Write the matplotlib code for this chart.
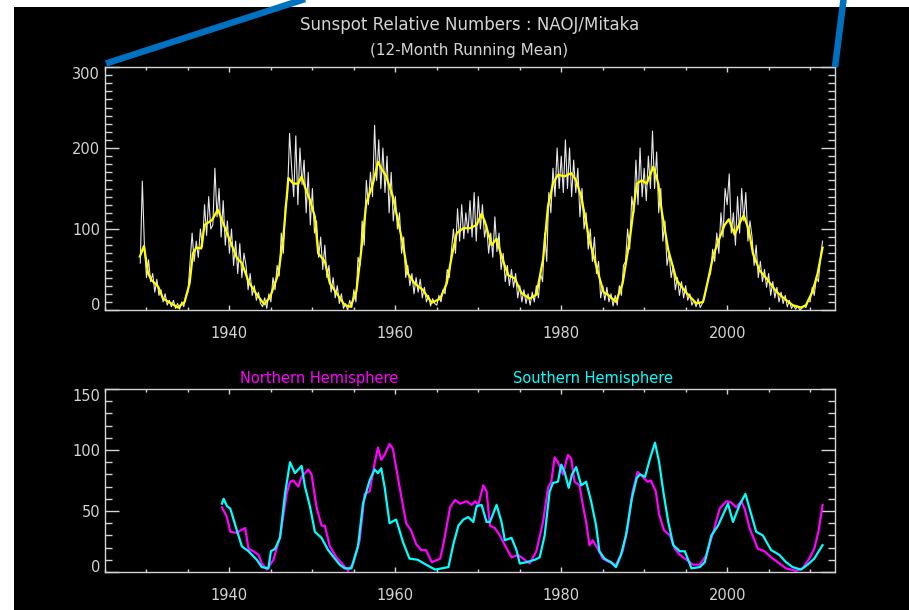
import numpy as np
import matplotlib
matplotlib.use('Agg')
import matplotlib.pyplot as plt
from matplotlib.patches import Rectangle
from matplotlib.lines import Line2D
from matplotlib.ticker import MultipleLocator

# ---- data ----
# 12-month running mean (yellow)
smooth_year = [1929.2, 1929.7, 1930.2, 1930.6, 1931.4, 1932.0, 1933.0, 1933.8, 1934.6, 1935.2,
               1935.6, 1936.0, 1936.6, 1937.0, 1937.9, 1938.6, 1939.1, 1939.9, 1940.9, 1941.5,
               1942.3, 1943.3, 1944.2, 1944.9, 1945.9, 1946.5, 1947.1, 1947.7, 1948.3, 1948.7,
               1949.1, 1949.7, 1950.3, 1950.7, 1951.5, 1952.1, 1952.9, 1953.9, 1954.6, 1955.3,
               1955.9, 1956.5, 1957.3, 1957.9, 1958.3, 1958.9, 1959.7, 1960.3, 1960.9, 1961.5,
               1962.3, 1963.3, 1963.9, 1964.4, 1965.4, 1966.2, 1966.8, 1967.4, 1968.2, 1969.0,
               1969.8, 1970.4, 1970.8, 1971.6, 1972.2, 1972.8, 1973.6, 1974.4, 1975.2, 1976.2,
               1977.0, 1977.8, 1978.4, 1979.0, 1979.6, 1980.4, 1981.2, 1981.8, 1982.4, 1982.8,
               1983.4, 1984.2, 1984.6, 1985.1, 1985.6, 1986.6, 1987.4, 1988.3, 1989.1, 1989.7,
               1990.3, 1991.1, 1991.7, 1992.1, 1992.9, 1993.9, 1995.1, 1996.3, 1997.1, 1997.7,
               1998.3, 1998.9, 1999.7, 2000.2, 2000.9, 2001.5, 2002.0, 2002.6, 2003.1, 2003.9,
               2004.9, 2005.9, 2006.9, 2007.9, 2008.9, 2009.5, 2010.3, 2010.9, 2011.5]
smooth_val = [66, 79, 45, 37, 29, 14, 8, 3, 10, 33,
              70, 77, 76, 105, 111, 124, 111, 90, 64, 58,
              35, 19, 7, 16, 45, 90, 163, 156, 156, 165,
              152, 136, 115, 70, 60, 33, 21, 6, 4, 23,
              74, 132, 156, 183, 175, 165, 140, 111, 82, 45,
              33, 25, 16, 9, 14, 33, 66, 95, 101, 101,
              105, 119, 109, 80, 88, 66, 43, 39, 21, 14,
              19, 62, 128, 156, 167, 165, 169, 160, 140, 119,
              86, 55, 40, 22, 19, 10, 33, 90, 156, 160,
              156, 177, 156, 123, 74, 37, 21, 8, 10, 37,
              66, 84, 105, 112, 93, 107, 117, 99, 70, 49,
              37, 23, 14, 6, 3, 6, 23, 45, 77]

# monthly values (grey/white), every quarter year from 1929.25
raw_val = [58, 159, 80,
           40, 62, 35, 45,   22, 38, 18, 25,   10, 20, 6, 12,   4, 12, 2, 8,
           1, 10, 4, 18,     22, 58, 95, 60,   85, 65, 100, 78, 130, 92, 140, 100,
           105, 175, 115, 150, 90, 135, 80, 110, 70, 100, 55, 85, 45, 82, 40, 70,
           55, 25, 45, 18,   30, 12, 22, 8,    4, 15, 2, 20,    10, 40, 25, 55,
           42, 95, 70, 130,  140, 218, 175, 140, 215, 130, 200, 155, 185, 120, 170, 105,
           150, 95, 110, 65, 90, 50, 80, 40,   55, 22, 40, 15,  30, 8, 20, 2,
           8, 0, 12, 3,      25, 10, 65, 55,   110, 80, 160, 130, 170, 140, 228, 160,
           210, 150, 200, 145, 190, 120, 170, 110, 140, 100, 120, 70, 90, 40, 55, 30,
           45, 20, 40, 22,   38, 15, 28, 10,   18, 5, 14, 8,    6, 18, 10, 25,
           20, 50, 40, 72,   100, 70, 125, 85, 130, 88, 120, 95, 135, 90, 145, 85,
           140, 100, 130, 90, 105, 70, 95, 65, 115, 72, 95, 50, 70, 35, 55, 30,
           50, 28, 45, 15,   30, 10, 25, 8,    20, 6, 22, 10,   30, 15, 45, 35,
           95, 60, 145, 120, 175, 140, 200, 150, 190, 145, 210, 150, 200, 140, 185, 145,
           175, 115, 150, 100, 120, 75, 100, 60, 90, 45, 60, 15, 30, 12, 28, 10,
           20, 5, 18, 6,     30, 18, 55, 60,   100, 75, 140, 120, 185, 130, 200, 140,
           175, 135, 190, 150, 221, 150, 195, 120, 150, 85, 110, 55, 70, 40, 55, 25,
           40, 18, 35, 15,   30, 12, 20, 6,    12, 4, 14, 3,    8, 15, 28, 40,
           45, 75, 60, 95,   70, 120, 90, 150, 130, 168, 95, 120, 80, 140, 95, 150,
           110, 145, 85, 110, 90, 55, 80, 40,  60, 35, 50, 28,  45, 18, 35, 15,
           28, 10, 22, 8,    18, 4, 12, 2,     6, 1, 5, 0,      2, 5, 3, 12,
           10, 28, 18, 40,   35, 65, 85]
raw_year = 1929.25 + 0.25 * np.arange(len(raw_val))

# hemispheric running means
north_year = [1939.1, 1939.7, 1940.1, 1940.9, 1941.3, 1941.9, 1942.3, 1942.9, 1943.5, 1943.9,
              1944.5, 1945.3, 1946.1, 1946.9, 1947.3, 1947.7, 1948.3, 1948.7, 1949.5, 1949.9,
              1950.5, 1951.1, 1951.5, 1952.1, 1952.9, 1953.7, 1954.3, 1954.9, 1955.7, 1956.3,
              1956.9, 1957.5, 1957.9, 1958.3, 1958.7, 1959.3, 1959.7, 1960.5, 1961.3, 1961.9,
              1962.5, 1963.1, 1963.7, 1964.4, 1965.4, 1965.8, 1966.6, 1967.2, 1967.8, 1968.6,
              1969.2, 1969.6, 1970.0, 1970.6, 1971.0, 1971.4, 1972.0, 1972.6, 1973.2, 1974.0,
              1974.8, 1975.6, 1976.2, 1977.0, 1977.8, 1978.4, 1978.8, 1979.2, 1979.6, 1980.2,
              1980.8, 1981.2, 1981.6, 1982.2, 1982.6, 1983.0, 1983.4, 1983.8, 1984.4, 1985.0,
              1985.8, 1986.6, 1987.4, 1988.0, 1988.6, 1989.2, 1989.8, 1990.4, 1990.8, 1991.4,
              1991.8, 1992.4, 1993.1, 1993.7, 1994.3, 1995.1, 1995.9, 1996.7, 1997.5, 1998.3,
              1999.1, 1999.9, 2000.5, 2001.1, 2001.7, 2002.1, 2002.7, 2003.7, 2004.5, 2005.3,
              2006.3, 2007.1, 2008.3, 2009.1, 2009.9, 2010.5, 2011.0, 2011.5]
north_val = [53, 45, 33, 32, 34, 36, 19, 17, 14, 7,
             2, 10, 29, 64, 74, 75, 70, 78, 84, 80,
             53, 38, 38, 21, 12, 6, 1, 7, 26, 64,
             66, 89, 102, 92, 96, 105, 101, 70, 40, 34,
             23, 18, 18, 8, 11, 23, 53, 59, 56, 58,
             55, 58, 55, 71, 66, 38, 36, 30, 22, 12,
             14, 10, 7, 17, 41, 69, 74, 94, 90, 80,
             96, 93, 74, 71, 55, 41, 22, 26, 19, 11,
             8, 6, 17, 36, 66, 82, 78, 74, 75, 66,
             47, 34, 30, 19, 14, 10, 6, 6, 14, 32,
             52, 58, 57, 53, 58, 52, 36, 19, 17, 12,
             7, 3, 1, 3, 11, 19, 33, 55]

south_year = [1939.1, 1939.3, 1939.7, 1940.1, 1940.5, 1940.9, 1941.5, 1942.3, 1943.3, 1943.9,
              1944.7, 1945.0, 1945.5, 1946.1, 1946.7, 1947.3, 1947.9, 1948.3, 1948.7, 1949.1,
              1949.7, 1950.3, 1951.1, 1951.9, 1952.7, 1953.3, 1953.9, 1954.7, 1955.5, 1956.1,
              1956.9, 1957.5, 1957.9, 1958.3, 1958.7, 1959.3, 1960.1, 1960.9, 1961.7, 1962.7,
              1963.7, 1964.8, 1965.6, 1966.4, 1967.0, 1967.6, 1968.2, 1968.8, 1969.4, 1969.8,
              1970.4, 1971.0, 1971.4, 1972.2, 1972.8, 1973.2, 1974.0, 1974.6, 1975.0, 1975.8,
              1976.8, 1977.4, 1978.0, 1978.6, 1979.0, 1979.6, 1980.0, 1980.4, 1980.9, 1981.3,
              1981.8, 1982.4, 1983.0, 1983.6, 1984.2, 1984.6, 1985.2, 1986.0, 1986.6, 1987.2,
              1987.8, 1988.5, 1989.1, 1989.5, 1990.1, 1990.7, 1991.3, 1991.8, 1992.3, 1992.9,
              1993.5, 1994.3, 1994.9, 1995.7, 1996.7, 1997.3, 1998.1, 1998.9, 1999.5, 2000.1,
              2000.7, 2001.5, 2002.2, 2002.7, 2003.5, 2004.3, 2005.3, 2006.3, 2007.1, 2007.9,
              2008.9, 2009.7, 2010.5, 2011.5]
south_val = [56, 60, 54, 52, 43, 34, 21, 17, 10, 4,
             3, 17, 19, 28, 64, 90, 81, 84, 87, 70,
             54, 33, 28, 18, 11, 6, 3, 3, 21, 56,
             75, 84, 81, 85, 70, 40, 43, 25, 11, 10,
             6, 2, 3, 4, 23, 38, 43, 45, 41, 54,
             55, 41, 41, 55, 41, 26, 28, 18, 7, 8,
             10, 12, 30, 66, 73, 74, 88, 82, 69, 80,
             86, 71, 74, 58, 38, 17, 11, 8, 4, 14,
             30, 60, 77, 80, 78, 93, 106, 90, 66, 41,
             22, 17, 17, 3, 4, 8, 30, 38, 47, 56,
             41, 55, 64, 52, 33, 30, 18, 14, 8, 4,
             2, 6, 11, 22]

xticks = [1940, 1960, 1980, 2000]
xtick_labels = ['1940', '1960', '1980', '2000']
top_yticks = [0, 100, 200, 300]
bot_yticks = [0, 50, 100, 150]

title = 'Sunspot Relative Numbers : NAOJ/Mitaka'
subtitle = '(12-Month Running Mean)'

# ---- figure ----
W, H = 909, 610
fg = '#d4d4d4'
plt.rcParams['font.family'] = ['DejaVu Sans']

fig = plt.figure(figsize=(W / 100, H / 100), dpi=100, facecolor='black')

def fx(px):
    return px / W

def fy(py):
    return 1 - py / H

def pt(px):
    return px * 0.72

ax1 = fig.add_axes([fx(105), fy(310), fx(835) - fx(105), fy(67) - fy(310)])
ax2 = fig.add_axes([fx(105), fy(572), fx(835) - fx(105), fy(389) - fy(572)])

ax1.plot(raw_year, raw_val, color='#e6e6e6', lw=0.8)
ax1.plot(smooth_year, smooth_val, color='#ffff00', lw=1.6)

ax2.plot(north_year, north_val, color='#ff00ff', lw=1.6)
ax2.plot(south_year, south_val, color='#00ffff', lw=1.6)

def style(ax, yticks):
    ax.set_facecolor('black')
    ax.set_xlim(1925, 2013)
    ax.set_ylim(yticks[0], yticks[-1])
    for s in ax.spines.values():
        s.set_color(fg)
        s.set_linewidth(1.0)
    ax.set_xticks(xticks)
    ax.set_xticklabels(xtick_labels)
    ax.xaxis.set_minor_locator(MultipleLocator(5))
    ax.set_yticks(yticks)
    ax.set_yticklabels([str(v) for v in yticks])
    ax.yaxis.set_minor_locator(MultipleLocator(10))
    ax.tick_params(which='both', direction='in', top=True, right=True,
                   colors=fg, labelsize=10.5, width=1)
    ax.tick_params(axis='y', which='major', length=pt(14), pad=pt(5))
    ax.tick_params(axis='y', which='minor', length=pt(7))
    ax.tick_params(axis='x', which='major', length=pt(5), pad=pt(16))
    ax.tick_params(axis='x', which='minor', length=pt(3))
    # IDL keeps end labels inside the axis range
    labs = ax.get_yticklabels()
    labs[0].set_va('baseline')
    labs[-1].set_va('top')

# limits after plotting so autoscale does not pad them
style(ax1, top_yticks)
style(ax2, bot_yticks)

fig.text(fx(470), fy(25), title, ha='center', va='center', color=fg, fontsize=12)
fig.text(fx(469), fy(50), subtitle, ha='center', va='center', color=fg, fontsize=11)
fig.text(fx(319), fy(379), 'Northern Hemisphere', ha='center', va='center',
         color='#ff00ff', fontsize=10.5)
fig.text(fx(593), fy(379), 'Southern Hemisphere', ha='center', va='center',
         color='#00ffff', fontsize=10.5)

# page margins and the blue callout lines around the plot
fig.patches.append(Rectangle((0, fy(7)), 1, 1 - fy(7), transform=fig.transFigure,
                             facecolor='white', edgecolor='none', zorder=1))
fig.patches.append(Rectangle((0, 0), fx(14), 1, transform=fig.transFigure,
                             facecolor='white', edgecolor='none', zorder=1))
fig.add_artist(Line2D([fx(106), fx(305)], [fy(63.5), fy(-1)], transform=fig.transFigure,
                      color='#0070c0', lw=4.7, solid_capstyle='butt', zorder=3))
fig.add_artist(Line2D([fx(835), fx(843.6)], [fy(67), fy(-1)], transform=fig.transFigure,
                      color='#0070c0', lw=4.7, solid_capstyle='butt', zorder=3))

fig.savefig('out.png', dpi=100, facecolor='black')
